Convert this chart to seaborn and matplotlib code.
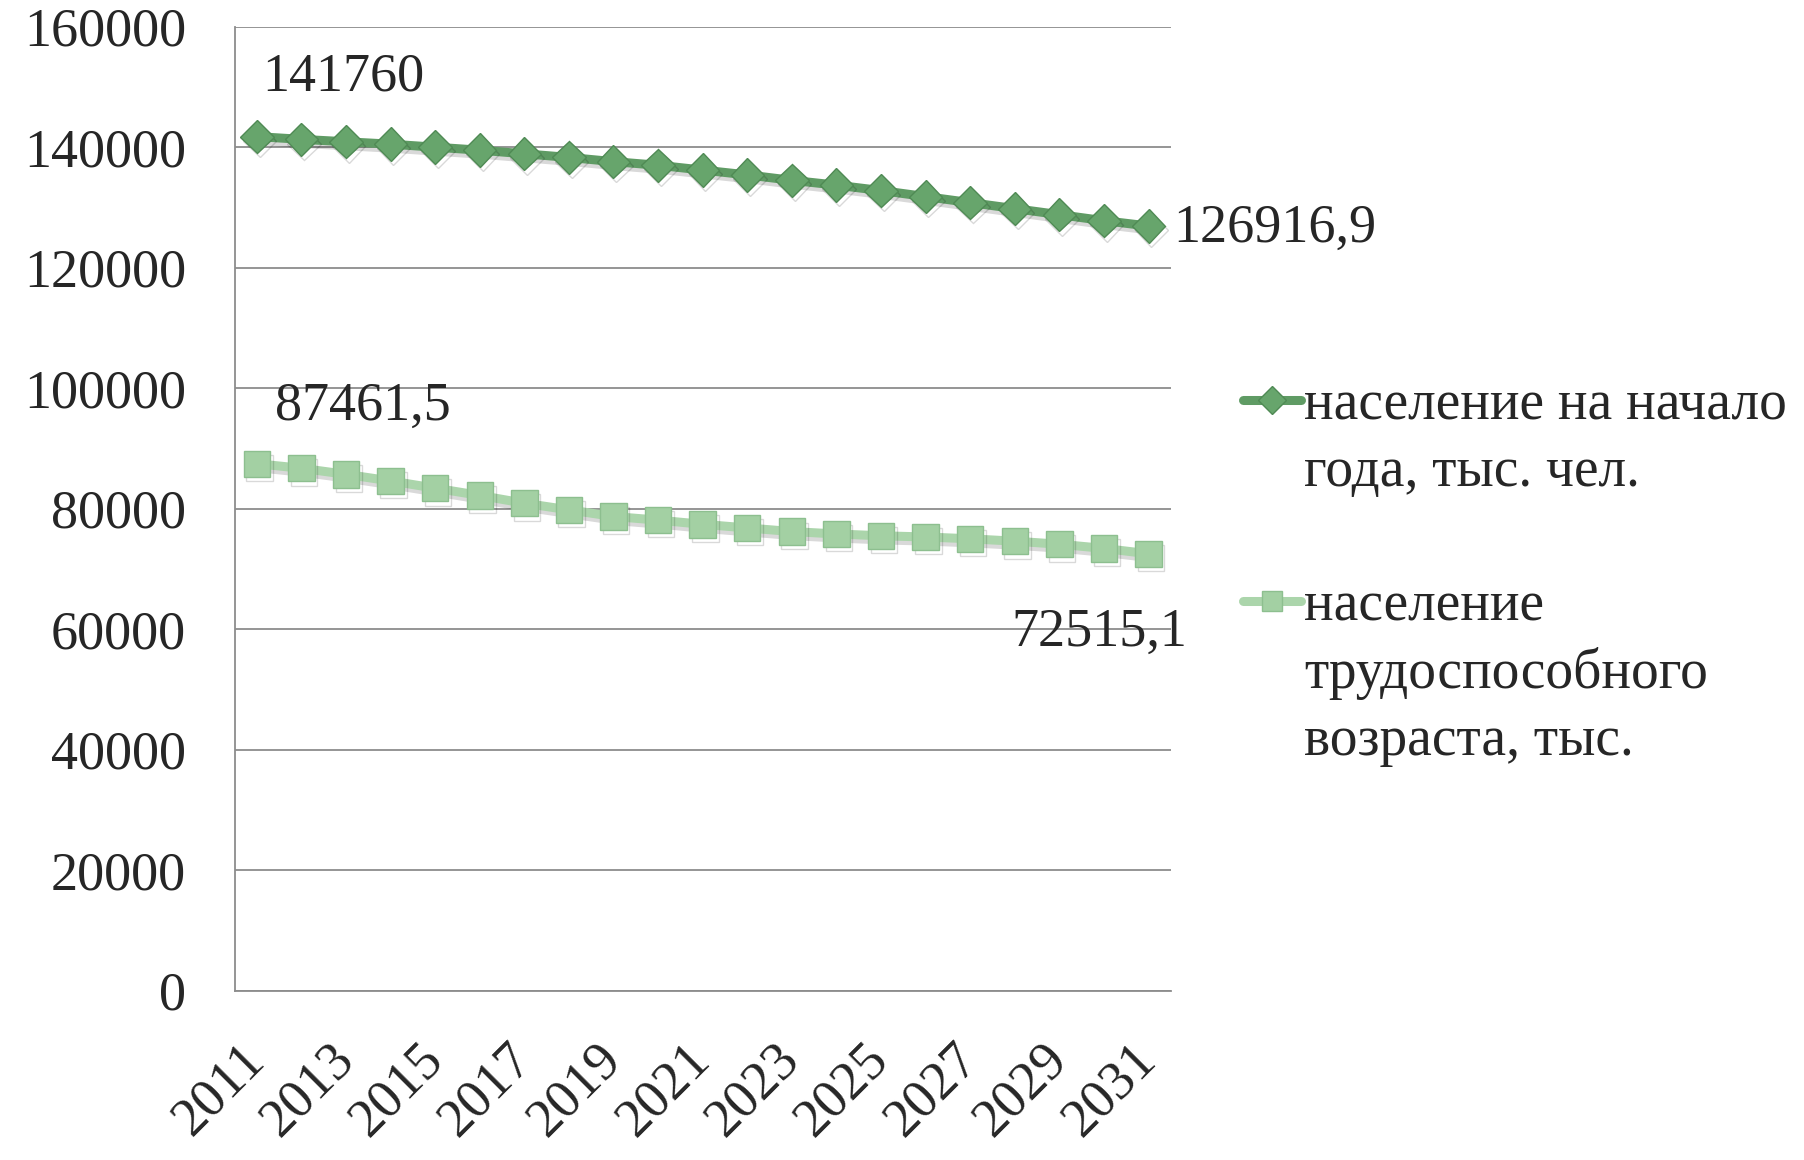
import matplotlib
matplotlib.use('Agg')
import matplotlib.pyplot as plt
import matplotlib.patheffects as pe
from matplotlib.lines import Line2D
import seaborn as sns
import pandas as pd

# Values
years = list(range(2011, 2032))
population = [141760, 141300, 140900, 140500, 140000, 139500, 138900, 138300,
              137600, 137000, 136200, 135400, 134500, 133700, 132800, 131800,
              130800, 129800, 128800, 127800, 126916.9]
working_age = [87461.5, 86700, 85700, 84600, 83400, 82200, 80900, 79800,
               78700, 78100, 77400, 76800, 76200, 75800, 75500, 75300,
               75000, 74600, 74100, 73400, 72515.1]
y_ticks = [0, 20000, 40000, 60000, 80000, 100000, 120000, 140000, 160000]
legend_lines = ['население на начало', 'года, тыс. чел.', ' ',
                'население', 'трудоспособного', 'возраста, тыс.']

df = pd.DataFrame({'year': years, 'population': population, 'working_age': working_age})

sns.set_style('white')
plt.rcParams['font.family'] = ['Liberation Serif', 'DejaVu Serif']

FS = 39
GRID = '#8c8c8c'
dark = '#5f9b64'
light = '#abd5ab'

fig = plt.figure(figsize=(18.04, 11.6), dpi=100)
ax = fig.add_axes([0.130, 0.146, 0.519, 0.831])

shadow = [pe.SimpleLineShadow(offset=(2, -3), shadow_color='k', alpha=0.15), pe.Normal()]

sns.lineplot(data=df, x='year', y='population', ax=ax, color=dark, lw=6.5,
             marker='D', markersize=17, markerfacecolor='#67a56c',
             markeredgecolor='#4f8a54', markeredgewidth=1, path_effects=shadow)
sns.lineplot(data=df, x='year', y='working_age', ax=ax, color=light, lw=6.5,
             marker='s', markersize=19, markerfacecolor='#a3d0a3',
             markeredgecolor='#8dbf8f', markeredgewidth=1, path_effects=shadow)


def fmt(v):
    return str(int(v)) if float(v).is_integer() else f'{v:.1f}'.replace('.', ',')


ax.annotate(fmt(population[0]), xy=(years[0], population[0]), xytext=(4, 43),
            textcoords='offset points', ha='left', va='center', fontsize=FS)
ax.annotate(fmt(population[-1]), xy=(years[-1], population[-1]), xytext=(18, -2),
            textcoords='offset points', ha='left', va='center', fontsize=FS)
ax.annotate(fmt(working_age[0]), xy=(years[0], working_age[0]), xytext=(13, 41),
            textcoords='offset points', ha='left', va='center', fontsize=FS)
ax.annotate(fmt(working_age[-1]), xy=(years[-1], working_age[-1]), xytext=(28, -57),
            textcoords='offset points', ha='right', va='center', fontsize=FS)

ax.set_xlim(years[0] - 0.5, years[-1] + 0.5)
ax.set_ylim(y_ticks[0], y_ticks[-1])
ax.set_yticks(y_ticks)
ax.set_yticklabels([str(v) for v in y_ticks])
ax.set_xticks(years[::2])
ax.set_xticklabels([str(y) for y in years[::2]])
ax.set_xticks([y - 0.5 for y in years] + [years[-1] + 0.5], minor=True)
plt.setp(ax.get_xticklabels(), rotation=45, ha='right', va='center',
         rotation_mode='anchor')
ax.set_xlabel('')
ax.set_ylabel('')

ax.yaxis.grid(True, color=GRID, lw=1.3)
ax.set_axisbelow(True)
ax.tick_params(axis='x', which='major', length=0, pad=44, labelsize=FS)
ax.tick_params(axis='x', which='minor', length=14, width=1.3, color=GRID)
ax.tick_params(axis='y', length=11, width=1.3, color=GRID, pad=24, labelsize=FS)
for side in ['top', 'right']:
    ax.spines[side].set_visible(False)
for side in ['left', 'bottom']:
    ax.spines[side].set_color(GRID)
    ax.spines[side].set_linewidth(1.3)

# Legend: one row per text line, handles only on the first line of each entry
h_pop = Line2D([], [], color=dark, lw=6.5, marker='D', markersize=14,
               markerfacecolor='#67a56c', markeredgecolor='#4f8a54')
h_work = Line2D([], [], color=light, lw=6.5, marker='s', markersize=15,
                markerfacecolor='#a3d0a3', markeredgecolor='#8dbf8f')
blank = Line2D([], [], color='none')
fig.legend([h_pop, blank, blank, h_work, blank, blank], legend_lines,
           loc='upper left', bbox_to_anchor=(0.689, 0.673), frameon=False,
           fontsize=40, borderpad=0, borderaxespad=0, handlelength=1.05,
           handletextpad=0.05, labelspacing=0.27)

fig.savefig('out.png', dpi=100)
